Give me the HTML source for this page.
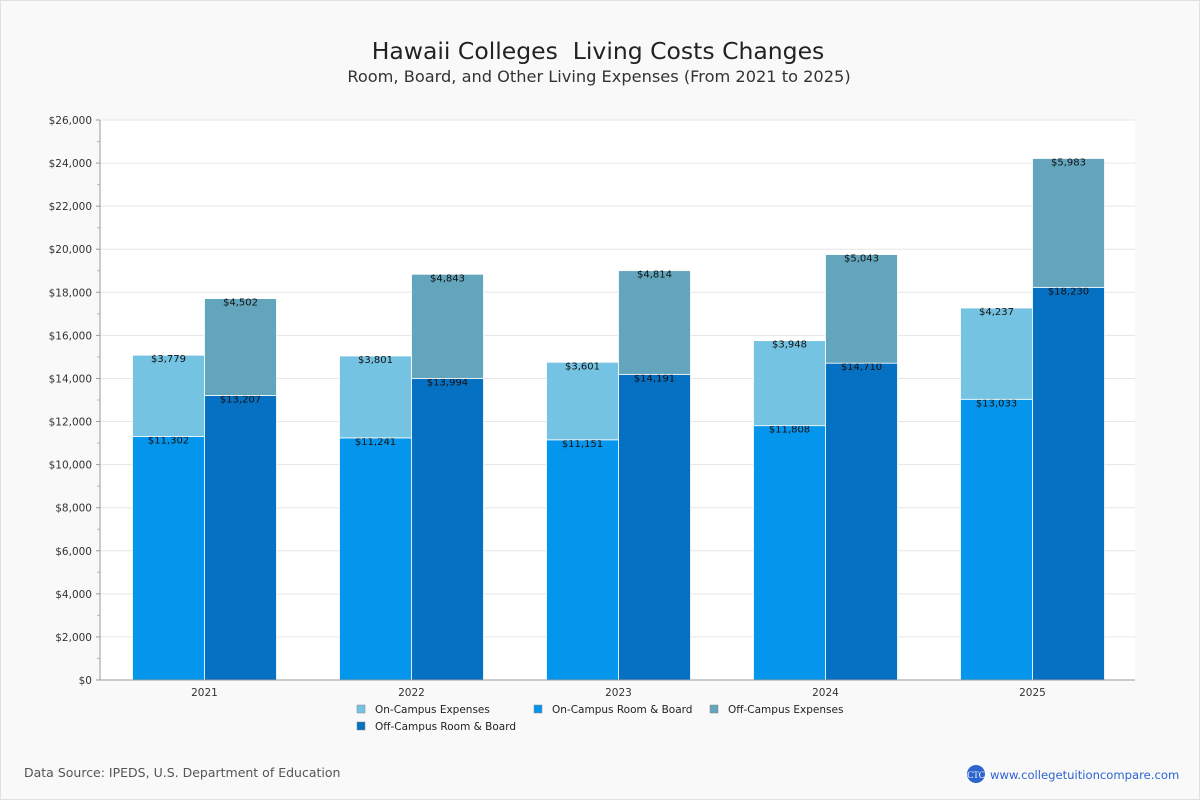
<!DOCTYPE html>
<html><head><meta charset="utf-8"><style>
html,body{margin:0;padding:0;background:#f9f9f9;}
svg{display:block;font-family:"DejaVu Sans","Liberation Sans",sans-serif;}
</style></head><body>
<svg id="c" width="1200" height="800" xmlns="http://www.w3.org/2000/svg">
<rect x="0.5" y="0.5" width="1199" height="799" fill="#f9f9f9" stroke="#e0e0e0"/>
<text x="598" y="59" text-anchor="middle" font-size="23.5" fill="#222">Hawaii Colleges&#160; Living Costs Changes</text>
<text x="599" y="82" text-anchor="middle" font-size="16.2" fill="#333">Room, Board, and Other Living Expenses (From 2021 to 2025)</text>
<rect x="100" y="120" width="1035" height="560" fill="#fff"/>
<g id="grid"></g><g id="bars"></g><g id="axes"></g>
<g font-size="10.5" fill="#222">
<rect x="357" y="705" width="8" height="8" fill="#74c3e2" stroke="#888" stroke-width="0.5"/>
<text x="375" y="713">On-Campus Expenses</text>
<rect x="534" y="705" width="8" height="8" fill="#0396ec" stroke="#888" stroke-width="0.5"/>
<text x="552" y="713">On-Campus Room &amp; Board</text>
<rect x="710" y="705" width="8" height="8" fill="#62a5bc" stroke="#888" stroke-width="0.5"/>
<text x="728" y="713">Off-Campus Expenses</text>
<rect x="357" y="722" width="8" height="8" fill="#0670c2" stroke="#888" stroke-width="0.5"/>
<text x="375" y="730">Off-Campus Room &amp; Board</text>
</g>
<text x="24" y="777" font-size="12.5" fill="#555">Data Source: IPEDS, U.S. Department of Education</text>
<circle cx="976" cy="774" r="9" fill="#2e64d0"/>
<text x="976" y="778" text-anchor="middle" font-size="9" fill="#fff" font-family="Liberation Serif,serif">CTC</text>
<text x="990" y="779" font-size="11.6" fill="#2e64d0">www.collegetuitioncompare.com</text>
</svg>
<script>
const years=["2021","2022","2023","2024","2025"];
const onRB=[11302,11241,11151,11808,13033];
const onExp=[3779,3801,3601,3948,4237];
const offRB=[13207,13994,14191,14710,18230];
const offExp=[4502,4843,4814,5043,5983];
const yTicks=[0,2000,4000,6000,8000,10000,12000,14000,16000,18000,20000,22000,24000,26000];
const NS="http://www.w3.org/2000/svg";
const x0=100,x1=1135,yTop=120,yBot=680,yMax=26000;
const y=v=>yBot-v/yMax*(yBot-yTop);
const band=(x1-x0)/years.length;
const cx=i=>x0+1+band*(i+0.5);
const bw=72;
function mk(tag,attrs,parent){const e=document.createElementNS(NS,tag);for(const k in attrs)e.setAttribute(k,attrs[k]);parent.appendChild(e);return e;}
const fmt=v=>"$"+v.toLocaleString("en-US");
const grid=document.getElementById("grid"),bars=document.getElementById("bars"),axes=document.getElementById("axes");
yTicks.forEach(t=>{
 const l=mk("line",{x1:x0,x2:x1,y1:y(t),y2:y(t),stroke:"#e6e6e6"},grid);
 
 
 const tx=mk("text",{x:x0-8,y:y(t)+4,"text-anchor":"end","font-size":"10.5",fill:"#333"},axes);
 tx.textContent=fmt(t);
 
 
 mk("line",{x1:x0-4,x2:x0,y1:y(t),y2:y(t),stroke:"#999"},axes);
 if(t<26000){mk("line",{x1:x0-3,x2:x0,y1:y(t+1000),y2:y(t+1000),stroke:"#bbb"},axes);}
});
mk("line",{x1:x0,x2:x0,y1:yTop,y2:yBot,stroke:"#999"},axes);
mk("line",{x1:x0,x2:x1,y1:yBot,y2:yBot,stroke:"#999"},axes);
function seg(x,base,val,color,name){
 const r=mk("rect",{x:x,y:y(base+val),width:bw,height:y(base)-y(base+val),fill:color,stroke:"#fff","stroke-width":"0.8"},bars);
 
 
 const t=mk("text",{x:x+bw/2,y:y(base+val)+7,"text-anchor":"middle","font-size":"10",fill:"#111"},bars);
 t.textContent=fmt(val);
 
 
}
years.forEach((yr,i)=>{
 const c=cx(i);
 seg(c-bw,0,onRB[i],"#0396ec","bar-on-campus-room-board-"+yr);
 seg(c-bw,onRB[i],onExp[i],"#74c3e2","bar-on-campus-expenses-"+yr);
 seg(c,0,offRB[i],"#0670c2","bar-off-campus-room-board-"+yr);
 seg(c,offRB[i],offExp[i],"#62a5bc","bar-off-campus-expenses-"+yr);
 const t=mk("text",{x:c,y:yBot+16,"text-anchor":"middle","font-size":"10.5",fill:"#333"},axes);
 t.textContent=yr;
 
 
});
</script>
</body></html>
